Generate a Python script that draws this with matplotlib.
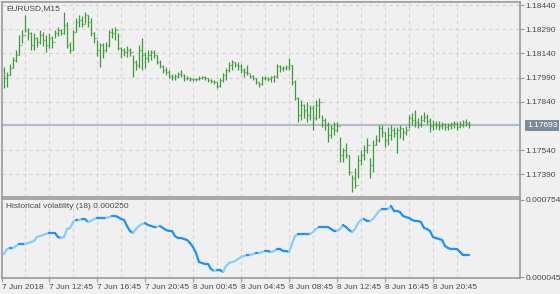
import numpy as np
import pandas as pd
import matplotlib
matplotlib.use('Agg')
import matplotlib.pyplot as plt
from matplotlib.collections import LineCollection

# Barras M15 de EURUSD, em pontos acima de 1.17000
abertura_inicial_pts = 1037
maxima_pts = [1056, 1025, 1074, 1118, 1161, 1254, 1285, 1378, 1297, 1273,
              1266, 1242, 1285, 1273, 1254, 1266, 1248, 1285, 1304, 1291,
              1397, 1335, 1211, 1285, 1359, 1378, 1372, 1397, 1378, 1359,
              1273, 1223, 1204, 1204, 1211, 1285, 1297, 1304, 1266, 1180,
              1173, 1186, 1173, 1130, 1099, 1192, 1235, 1149, 1161, 1161,
              1161, 1130, 1099, 1068, 1056, 1037, 1012, 1012, 1025, 1037,
              1012, 1000, 994, 987, 987, 1000, 1000, 1000, 987, 981,
              975, 963, 987, 1018, 1049, 1087, 1099, 1087, 1087, 1074,
              1049, 1068, 1012, 1006, 987, 963, 1000, 1000, 994, 1000,
              1006, 1074, 1068, 1062, 1068, 1111, 1068, 975, 870, 851,
              826, 839, 820, 820, 851, 863, 758, 739, 715, 696,
              715, 715, 622, 553, 584, 510, 386, 429, 510, 541,
              572, 615, 491, 603, 634, 696, 696, 653, 684, 696,
              684, 684, 696, 677, 690, 758, 770, 789, 739, 758,
              777, 764, 739, 727, 721, 721, 715, 708, 708, 715,
              721, 715, 721, 727, 733, 721]
minima_pts = [925, 932, 1006, 1049, 1087, 1130, 1204, 1273, 1223, 1161,
              1161, 1180, 1198, 1186, 1149, 1173, 1173, 1235, 1248, 1254,
              1260, 1173, 1142, 1161, 1273, 1304, 1304, 1328, 1304, 1248,
              1204, 1124, 1056, 1111, 1149, 1180, 1235, 1223, 1161, 1111,
              1124, 1118, 1124, 994, 1037, 1049, 1037, 1049, 1087, 1099,
              1111, 1074, 1049, 1018, 1006, 987, 975, 975, 987, 994,
              969, 975, 969, 969, 969, 975, 981, 975, 963, 956,
              950, 925, 932, 963, 975, 1025, 1037, 1056, 1037, 1018,
              994, 1006, 987, 975, 950, 932, 944, 975, 969, 963,
              963, 987, 1025, 1031, 1037, 1037, 944, 851, 715, 727,
              739, 715, 727, 665, 727, 739, 684, 665, 591, 615,
              634, 653, 467, 467, 491, 386, 281, 305, 367, 448,
              479, 522, 367, 405, 572, 591, 622, 560, 572, 603,
              622, 522, 615, 603, 634, 677, 696, 684, 677, 684,
              715, 702, 653, 665, 671, 665, 671, 665, 665, 671,
              677, 665, 684, 684, 690, 677]
fechamento_pts = [987, 1006, 1049, 1099, 1130, 1192, 1254, 1285, 1266, 1192,
                  1235, 1211, 1254, 1223, 1192, 1235, 1211, 1266, 1285, 1266,
                  1316, 1192, 1161, 1273, 1335, 1347, 1322, 1378, 1335, 1266,
                  1235, 1161, 1192, 1161, 1192, 1273, 1266, 1285, 1173, 1161,
                  1149, 1161, 1149, 1087, 1068, 1161, 1130, 1111, 1130, 1149,
                  1130, 1087, 1062, 1037, 1025, 1000, 994, 1000, 1012, 1006,
                  987, 987, 981, 981, 981, 987, 994, 987, 975, 969,
                  963, 938, 975, 1006, 1037, 1068, 1087, 1068, 1062, 1037,
                  1025, 1018, 1000, 987, 963, 950, 987, 987, 981, 994,
                  1000, 1062, 1049, 1049, 1056, 1068, 963, 863, 758, 820,
                  789, 758, 801, 739, 820, 839, 727, 696, 634, 677,
                  665, 690, 510, 541, 510, 405, 367, 324, 479, 510,
                  541, 572, 448, 572, 603, 677, 653, 603, 634, 665,
                  646, 665, 677, 653, 665, 739, 727, 715, 702, 727,
                  746, 721, 690, 702, 696, 690, 702, 684, 696, 702,
                  708, 684, 702, 715, 708, 693]

# Volatilidade histórica (18), em milionésimos
hv_e6 = [257, 303, 312, 312, 331, 349, 349, 349, 358, 367,
         377, 413, 422, 432, 441, 450, 450, 450, 413, 404,
         413, 487, 496, 551, 570, 570, 579, 579, 551, 561,
         579, 588, 588, 588, 588, 597, 607, 607, 597, 579,
         570, 515, 468, 450, 487, 515, 533, 542, 524, 515,
         505, 505, 515, 496, 478, 468, 468, 422, 404, 404,
         395, 386, 358, 321, 266, 183, 174, 165, 165, 119,
         100, 109, 109, 91, 146, 174, 183, 192, 211, 229,
         238, 247, 247, 257, 266, 266, 275, 284, 284, 275,
         284, 303, 303, 284, 284, 275, 349, 422, 441, 441,
         441, 441, 441, 459, 487, 505, 505, 505, 505, 487,
         468, 468, 487, 524, 505, 478, 459, 487, 542, 570,
         579, 561, 561, 579, 616, 653, 671, 671, 671, 699,
         653, 653, 643, 607, 597, 588, 570, 561, 561, 551,
         496, 487, 468, 413, 404, 395, 386, 331, 312, 303,
         303, 303, 275, 247, 247, 247]

preco_atual = 1.17693
ticks_preco = [1.18440, 1.18290, 1.18140, 1.17990, 1.17840, 1.17540, 1.17390]
ticks_hv = [0.000754, 0.000045]

base = 1.17
fechamento = base + np.array(fechamento_pts) / 100000
maxima = base + np.array(maxima_pts) / 100000
minima = base + np.array(minima_pts) / 100000
# abertura de cada barra = fechamento da anterior
abertura = np.concatenate([[base + abertura_inicial_pts / 100000], fechamento[:-1]])
hv = np.array(hv_e6) * 1e-6

n = len(fechamento)
tempos = pd.date_range('2018-06-07 09:00', periods=n, freq='15min')
x = np.arange(n)

fundo = '#f0f0f0'
cinza_txt = '#4a4a4a'
borda = '#9a9a9a'
grade = '#d2d2d2'
verde = '#3c9c3c'

plt.rcParams['font.family'] = ['Liberation Sans', 'DejaVu Sans']
plt.rcParams['font.size'] = 6

fig = plt.figure(figsize=(5.6, 2.94), dpi=100, facecolor=fundo)
W, H = 560, 294
ax1 = fig.add_axes([2 / W, 1 - 197 / H, 518 / W, 195 / H], facecolor=fundo)
ax2 = fig.add_axes([2 / W, 1 - 278 / H, 518 / W, 79 / H], facecolor=fundo)

xlim = ((2 - 4) / 3, (520 - 4) / 3)
for ax in (ax1, ax2):
    ax.set_xlim(*xlim)
    for s in ax.spines.values():
        s.set_color(borda)
        s.set_linewidth(1.2)
    ax.yaxis.tick_right()
    ax.tick_params(axis='y', length=3, width=0.8, color=borda,
                   labelsize=6, labelcolor=cinza_txt, pad=1)

# grade vertical a cada 2 horas
grade_idx = [i for i, t in enumerate(tempos) if t.minute == 45 and t.hour % 2 == 0]
for ax in (ax1, ax2):
    for gi in grade_idx:
        ax.axvline(gi, color=grade, lw=0.8, ls=(0, (3, 3)), zorder=0)

# painel de preço
ax1.set_ylim(1.172496, 1.184586)
for p in ticks_preco:
    ax1.axhline(p, color=grade, lw=0.8, ls=(0, (3, 3)), zorder=0)
ax1.set_yticks(ticks_preco)
ax1.set_yticklabels([f'{p:.5f}' for p in ticks_preco])
ax1.set_xticks([])
ax1.axhline(preco_atual, color='#b4bccb', lw=1.6, zorder=1)

ax1.vlines(x, minima, maxima, color=verde, lw=0.9, zorder=3)
ax1.hlines(abertura, x - 0.4, x, color=verde, lw=0.9, zorder=3)
ax1.hlines(fechamento, x, x + 0.4, color=verde, lw=0.9, zorder=3)

ax1.annotate(f'{preco_atual:.5f}', xy=(1.0, preco_atual), xycoords=('axes fraction', 'data'),
             xytext=(5, 0), textcoords='offset points', va='center', ha='left',
             color='white', fontsize=6,
             bbox=dict(boxstyle='square,pad=0.25', fc='#7d8a99', ec='none'))
ax1.text(4 / 518, 1 - 3 / 195, 'EURUSD,M15', transform=ax1.transAxes,
         ha='left', va='top', color=cinza_txt, fontsize=6)

# painel da volatilidade
ax2.set_ylim(0.000036, 0.000763)
ax2.set_yticks(ticks_hv)
ax2.set_yticklabels([f'{v:.6f}' for v in ticks_hv])
pts = np.column_stack([x, hv])
segs = np.stack([pts[:-1], pts[1:]], axis=1)
cores = ['#87cefa' if hv[i + 1] > hv[i] else '#1e90ff' for i in range(n - 1)]
ax2.add_collection(LineCollection(segs, colors=cores, linewidths=1.6, capstyle='round'))
ax2.text(4 / 518, 1 - 4 / 79, 'Historical volatility (18) 0.000250', transform=ax2.transAxes,
         ha='left', va='top', color=cinza_txt, fontsize=6)

# rótulos de tempo a cada 4 horas
rot_idx = [i for i, t in enumerate(tempos) if t.minute == 45 and t.hour % 4 == 0]
pos = [xlim[0]] + rot_idx
rot = ['7 Jun 2018'] + [tempos[i].strftime('%-d %b %H:%M') for i in rot_idx]
ax2.set_xticks(pos)
ax2.set_xticklabels(rot, ha='left')
ax2.tick_params(axis='x', length=3, width=0.8, color=borda, labelsize=6,
                labelcolor=cinza_txt, pad=1)

fig.savefig('out.png', dpi=100, facecolor=fundo)
